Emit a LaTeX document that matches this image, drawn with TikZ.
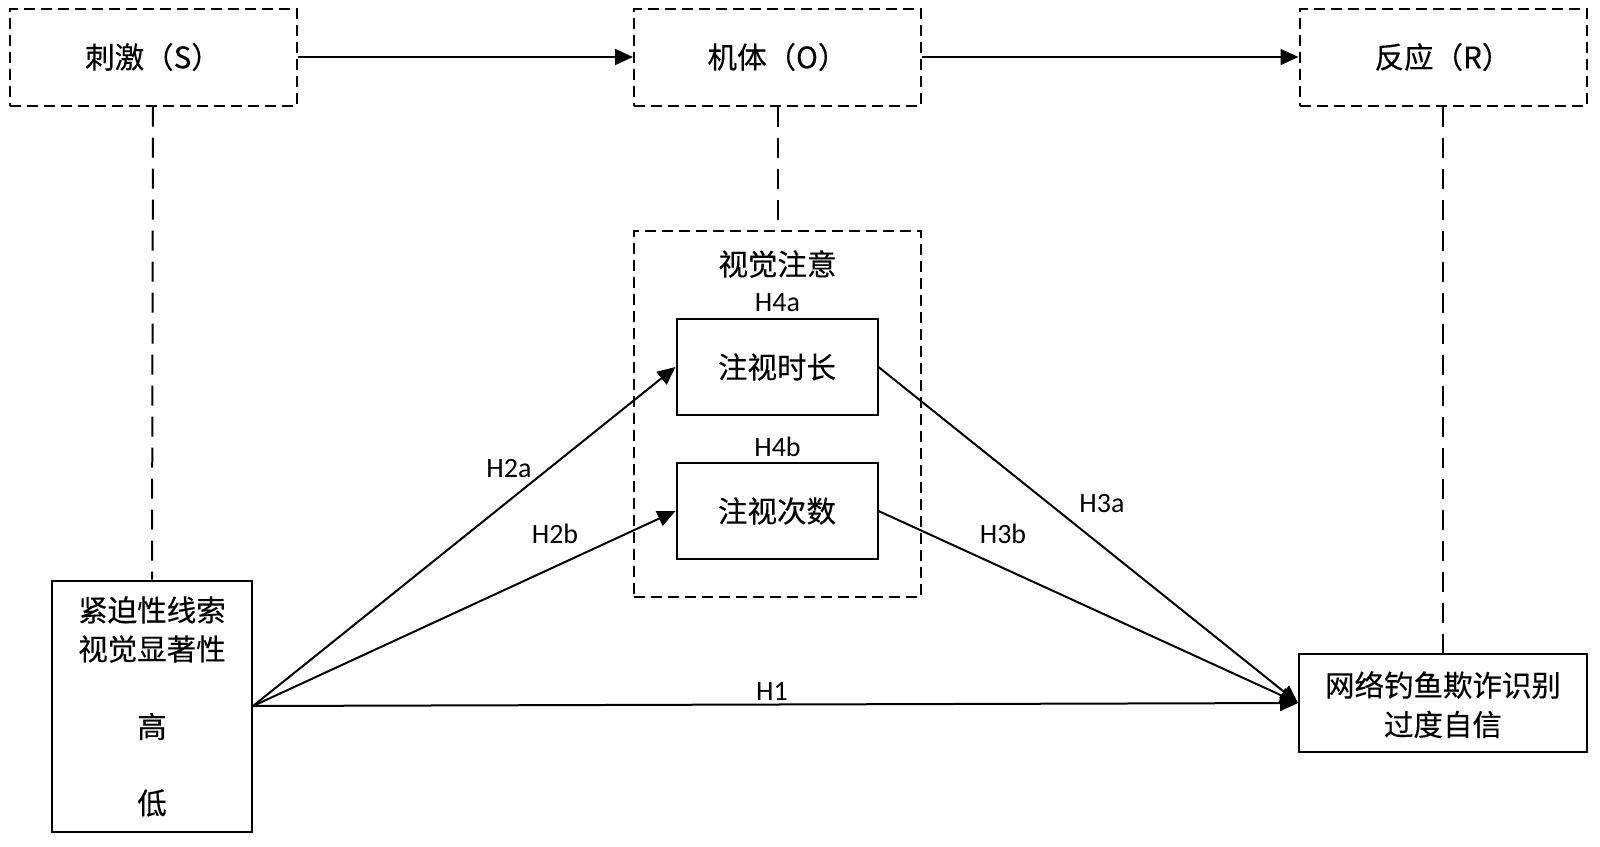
\documentclass[tikz,border=0pt]{standalone}
\usepackage{fontspec}
\setmainfont{Carlito}
\newfontfamily\cjk[FakeBold=0.3]{Noto Sans CJK SC}
\usetikzlibrary{arrows.meta}
\begin{document}
\begin{tikzpicture}[x=1pt,y=-1pt,
  dbox/.style={draw, line width=2pt, dash pattern=on 11pt off 6pt, inner sep=0pt},
  sbox/.style={draw, line width=2pt, inner sep=0pt},
  cn/.style={font=\cjk\fontsize{29.5}{35}\selectfont, inner sep=0pt},
  hl/.style={font=\fontsize{28}{33}\selectfont, inner sep=0pt},
  arr/.style={line width=2pt, -{Triangle[length=18pt,width=16pt]}},
  dl/.style={line width=2pt, dash pattern=on 20pt off 11pt}]
\useasboundingbox[fill=white] (0,0) rectangle (1600,846);
% top row
\node[dbox, minimum width=287pt, minimum height=97pt] (S) at (153,57) {};
\node[cn] (St) at (153,57) {刺激（S）};
\node[dbox, minimum width=287pt, minimum height=97pt] (O) at (777.5,57) {};
\node[cn] (Ot) at (777.5,57) {机体（O）};
\node[dbox, minimum width=287pt, minimum height=97pt] (R) at (1443,57) {};
\node[cn] (Rt) at (1443,57) {反应（R）};
\draw[arr] (S.east) -- (O.west);
\draw[arr] (O.east) -- (R.west);
% attention box
\node[dbox, minimum width=287pt, minimum height=366pt] (V) at (777.5,414) {};
\node[cn] (Vt) at (777.5,264) {视觉注意};
\node[hl] (H4a) at (777.5,303) {H4a};
\node[sbox, minimum width=201pt, minimum height=96pt] (D) at (777,367) {};
\node[cn] (Dt) at (777,367) {注视时长};
\node[hl] (H4b) at (777.5,447) {H4b};
\node[sbox, minimum width=201pt, minimum height=96pt] (N) at (777,511) {};
\node[cn] (Nt) at (777,511) {注视次数};
% left box
\node[sbox, minimum width=200pt, minimum height=251pt] (K) at (152,706) {};
\node[cn] (K1) at (152,610) {紧迫性线索};
\node[cn] (K2) at (152,649) {视觉显著性};
\node[cn] (K3) at (152,726.5) {高};
\node[cn] (K4) at (152,803) {低};
% right box
\node[sbox, minimum width=288pt, minimum height=98pt] (W) at (1443,703) {};
\node[cn] (W1) at (1443,685) {网络钓鱼欺诈识别};
\node[cn] (W2) at (1443,724.5) {过度自信};
% dashed vertical links
\draw[dl] (S.south) -- (K.north);
\draw[dl] (O.south) -- (V.north);
\draw[dl] (R.south) -- (W.north);
% arrows
\coordinate (ks) at (K.east);
\draw[arr] (ks) -- (D.west);
\draw[arr] (ks) -- (N.west);
\draw[arr] (ks) -- (W.west);
\draw[arr] (D.east) -- (W.west);
\draw[arr] (N.east) -- (W.west);
% labels
\node[hl] (H2a) at (509,469) {H2a};
\node[hl] (H2b) at (555,534) {H2b};
\node[hl] (H1) at (772,691) {H1};
\node[hl] (H3a) at (1102,504) {H3a};
\node[hl] (H3b) at (1003,534) {H3b};
\end{tikzpicture}
\end{document}
